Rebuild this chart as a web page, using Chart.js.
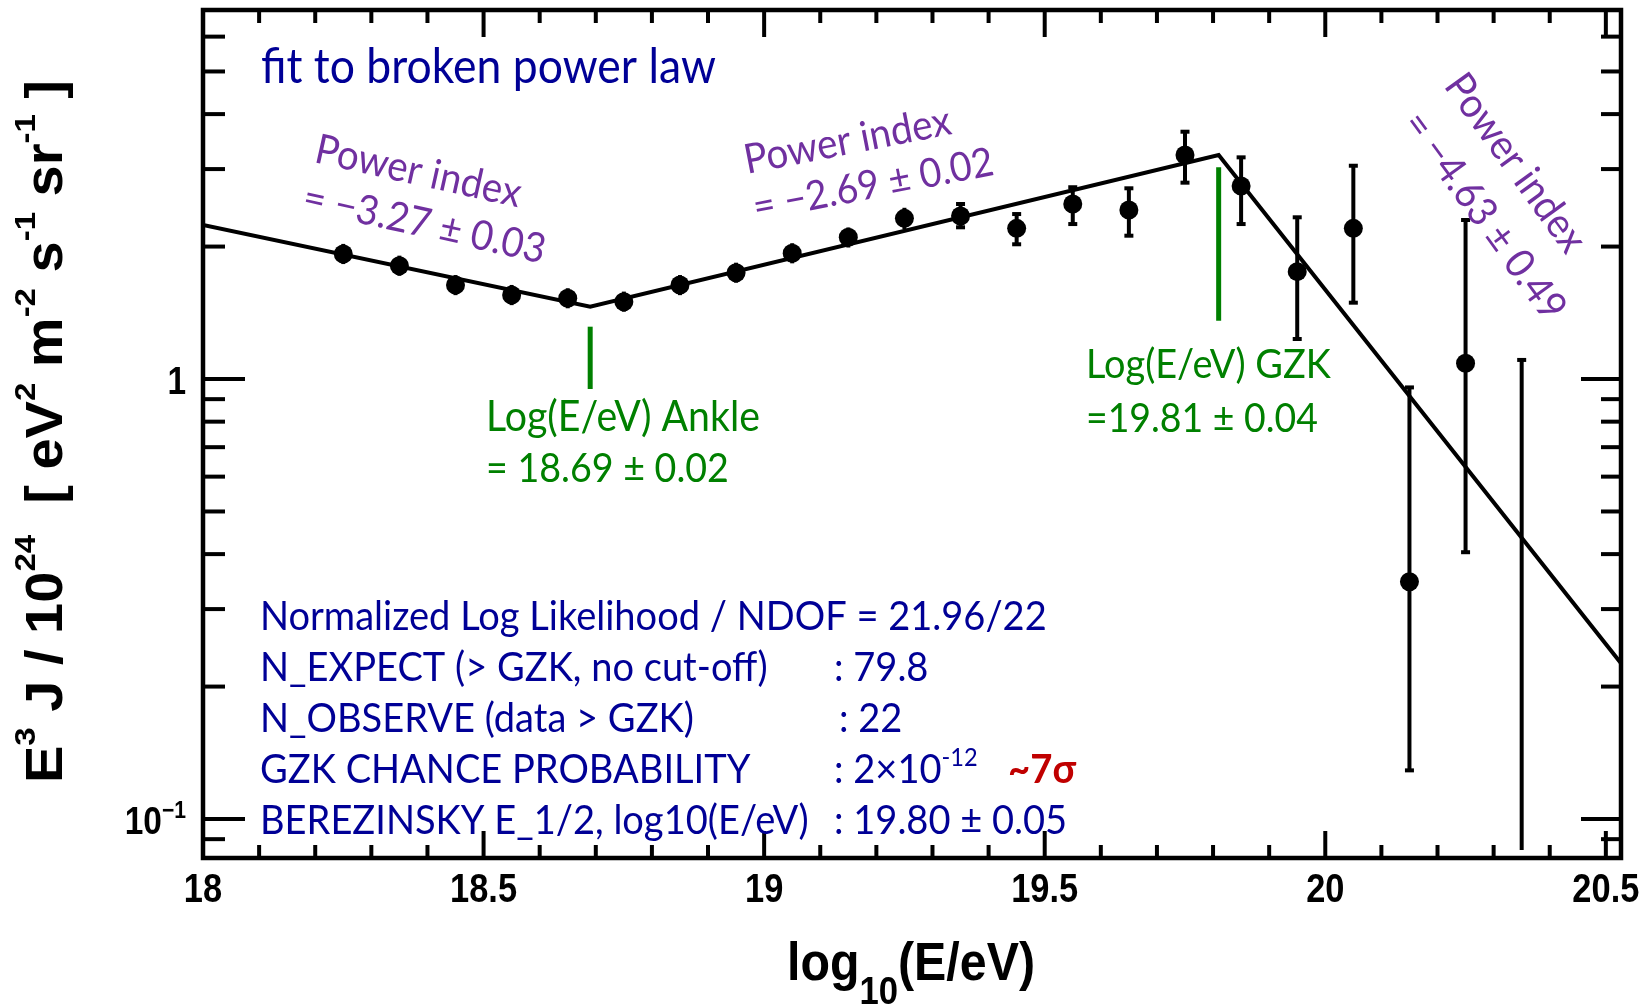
<!DOCTYPE html>
<html>
<head>
<meta charset="utf-8">
<script src="https://cdn.jsdelivr.net/npm/chart.js@4"></script>
<style>
  html, body { margin: 0; padding: 0; background: #fff; }
  canvas { display: block; }
</style>
</head>
<body>
<canvas id="myChart" width="1650" height="1008"></canvas>
<script>
// values (E^3 J / 1e24)
const energy   = [18.25, 18.35, 18.45, 18.55, 18.65, 18.75, 18.85, 18.95, 19.05, 19.15, 19.25,
                  19.35, 19.45, 19.55, 19.65, 19.75, 19.85, 19.95, 20.05, 20.15, 20.25, 20.35];
const flux     = [1.924, 1.809, 1.635, 1.552, 1.526, 1.499, 1.635, 1.744, 1.931, 2.099, 2.318,
                  2.347, 2.200, 2.499, 2.422, 3.229, 2.746, 1.754, 2.200, 0.346, 1.086, null];
const fluxLow  = [1.825, 1.716, 1.551, 1.472, 1.448, 1.422, 1.551, 1.655, 1.832, 1.990, 2.190,
                  2.212, 2.024, 2.250, 2.117, 2.794, 2.250, 1.233, 1.491, 0.129, 0.404, 0.085];
const fluxHigh = [2.028, 1.907, 1.723, 1.636, 1.608, 1.580, 1.723, 1.838, 2.035, 2.210, 2.450,
                  2.499, 2.371, 2.728, 2.713, 3.648, 3.190, 2.331, 3.053, 0.957, 2.298, 1.105];

// broken power law fit, vertices
const fitEnergy = [18.0, 18.69, 19.81, 20.527];
const fitFlux   = [2.24, 1.46, 3.23, 0.226];

// green break markers
const ankleEnergy = 18.69, ankleSpan = [0.949, 1.315];
const gzkEnergy = 19.81, gzkSpan = [1.357, 3.027];

// axes
const xMin = 18, xMax = 20.527;
const yMin = 0.08155, yMax = 6.897;
const xMajorTicks = [18, 18.5, 19, 19.5, 20, 20.5];
const xTickLabels = ['18', '18.5', '19', '19.5', '20', '20.5'];
const xMinorTicks = [18.1, 18.2, 18.3, 18.4, 18.6, 18.7, 18.8, 18.9, 19.1, 19.2, 19.3, 19.4,
                     19.6, 19.7, 19.8, 19.9, 20.1, 20.2, 20.3, 20.4];
const yMajorTicks = [0.1, 1];
const yTickLabels = [['10', '\u22121'], ['1', '']];
const yMinorTicks = [0.09, 0.2, 0.3, 0.4, 0.5, 0.6, 0.7, 0.8, 0.9, 2, 3, 4, 5, 6];

const NAVY = '#000096', GREEN = '#008000', PURPLE = '#7030A0', RED = '#C00000';
const TXT = 'Lato, "Open Sans", sans-serif';
const AX = '"Liberation Sans", Arial, sans-serif';
const TALL = 1.07; // Lato drawn a bit taller and narrower, closer to the original face

function line(ctx, x1, y1, x2, y2) {
    ctx.beginPath(); ctx.moveTo(x1, y1); ctx.lineTo(x2, y2); ctx.stroke();
}

// text in Lato, font size chosen so the string has the given width
function put(ctx, text, x, y, o) {
    const w = o.weight || 'normal';
    let size = o.size;
    if (!size) {
        ctx.font = `${w} 100px ${TXT}`;
        size = 100 * o.width / ctx.measureText(text).width;
    }
    ctx.save();
    ctx.translate(x, y);
    ctx.rotate((o.angle || 0) * Math.PI / 180);
    ctx.scale(1 / TALL, 1);
    ctx.font = `${w} ${size * TALL}px ${TXT}`;
    ctx.fillStyle = o.color;
    ctx.textAlign = 'left';
    ctx.textBaseline = 'alphabetic';
    ctx.fillText(text, 0, 0);
    ctx.restore();
    return size;
}

// mixed text with super/subscripts, squeezed to a width
function rich(ctx, parts, x, y, o) {
    let total = 0;
    parts.forEach(p => { ctx.font = p.font; p.w = ctx.measureText(p.t).width; total += p.w; });
    const sx = o.width ? o.width / total : (o.sx || 1);
    ctx.save();
    ctx.translate(x, y);
    ctx.rotate((o.angle || 0) * Math.PI / 180);
    ctx.scale(sx, 1);
    ctx.fillStyle = o.color || '#000';
    ctx.textAlign = 'left';
    ctx.textBaseline = 'alphabetic';
    let cx = o.align === 'right' ? -total : o.align === 'center' ? -total / 2 : 0;
    parts.forEach(p => { ctx.font = p.font; ctx.fillText(p.t, cx, p.dy || 0); cx += p.w; });
    ctx.restore();
}

const errorBars = {
    id: 'errorBars',
    beforeDatasetsDraw(chart) {
        const ctx = chart.ctx, xs = chart.scales.x, ys = chart.scales.y;
        ctx.save();
        ctx.strokeStyle = '#000';
        ctx.lineWidth = 4;
        energy.forEach((e, i) => {
            const px = xs.getPixelForValue(e);
            const pLo = ys.getPixelForValue(fluxLow[i]);
            const pHi = ys.getPixelForValue(fluxHigh[i]);
            line(ctx, px, pLo, px, pHi);
            const pv = flux[i] === null ? null : ys.getPixelForValue(flux[i]);
            if (pv === null || pv - pHi > 11) line(ctx, px - 4.5, pHi, px + 4.5, pHi);
            if (pv !== null && pLo - pv > 11) line(ctx, px - 4.5, pLo, px + 4.5, pLo);
        });
        ctx.restore();
    }
};

const frame = {
    id: 'frame',
    afterDatasetsDraw(chart) {
        const ctx = chart.ctx, xs = chart.scales.x, ys = chart.scales.y;
        const { left, right, top, bottom } = chart.chartArea;
        ctx.save();
        ctx.strokeStyle = '#000';
        ctx.lineWidth = 4.5;
        ctx.strokeRect(left, top, right - left, bottom - top);
        ctx.lineWidth = 4;
        xMajorTicks.forEach(v => {
            const px = xs.getPixelForValue(v);
            line(ctx, px, bottom, px, bottom - 27);
            line(ctx, px, top, px, top + 27);
        });
        xMinorTicks.forEach(v => {
            const px = xs.getPixelForValue(v);
            line(ctx, px, bottom, px, bottom - 13);
            line(ctx, px, top, px, top + 13);
        });
        yMajorTicks.forEach(v => {
            const py = ys.getPixelForValue(v);
            line(ctx, left, py, left + 42, py);
            line(ctx, right, py, right - 40, py);
        });
        yMinorTicks.forEach(v => {
            const py = ys.getPixelForValue(v);
            line(ctx, left, py, left + 22, py);
            line(ctx, right, py, right - 20, py);
        });

        // tick labels
        xMajorTicks.forEach((v, i) => {
            rich(ctx, [{ t: xTickLabels[i], font: `bold 40px ${AX}` }],
                xs.getPixelForValue(v), bottom + 44, { sx: 0.86, align: 'center' });
        });
        yMajorTicks.forEach((v, i) => {
            const [base, sup] = yTickLabels[i];
            const parts = [{ t: base, font: `bold 38px ${AX}` }];
            if (sup) parts.push({ t: sup, font: `bold 24px ${AX}`, dy: -16 });
            rich(ctx, parts, left - 17, ys.getPixelForValue(v) + 15, { sx: 0.88, align: 'right' });
        });
        ctx.restore();
    }
};

const annotations = {
    id: 'annotations',
    afterDraw(chart) {
        const ctx = chart.ctx;
        ctx.save();

        // axis titles
        const M = `bold 51px ${AX}`, S = `bold 30px ${AX}`, sup = -27;
        rich(ctx, [
            { t: 'E', font: M }, { t: '3', font: S, dy: sup },
            { t: ' J / 10', font: M }, { t: '24', font: S, dy: sup },
            { t: '  [ eV', font: M }, { t: '2', font: S, dy: sup },
            { t: ' m', font: M }, { t: '-2', font: S, dy: sup },
            { t: ' s', font: M }, { t: '-1', font: S, dy: sup },
            { t: ' sr', font: M }, { t: '-1', font: S, dy: sup },
            { t: ' ]', font: M }
        ], 62, 783, { width: 703, angle: -90 });
        rich(ctx, [
            { t: 'log', font: `bold 53px ${AX}` },
            { t: '10', font: `bold 38px ${AX}`, dy: 24 },
            { t: '(E/eV)', font: `bold 53px ${AX}` }
        ], 787, 980, { width: 248 });

        put(ctx, 'fit to broken power law', 261, 83, { width: 455, color: NAVY });

        // spectral indices
        put(ctx, 'Power index', 313, 162, { width: 210, angle: 12.5, color: PURPLE });
        put(ctx, '= \u22123.27 \u00b1 0.03', 301, 210, { width: 247, angle: 12.5, color: PURPLE });
        put(ctx, 'Power index', 747, 174, { width: 210, angle: -11, color: PURPLE });
        put(ctx, '= \u22122.69 \u00b1 0.02', 756, 221, { width: 244, angle: -11, color: PURPLE });
        put(ctx, 'Power index', 1443, 86, { width: 210, angle: 54, color: PURPLE });
        put(ctx, '= \u22124.63 \u00b1 0.49', 1401, 124, { width: 247, angle: 54, color: PURPLE });

        // break positions
        put(ctx, 'Log(E/eV) Ankle', 486, 431, { width: 274, color: GREEN });
        put(ctx, '= 18.69 \u00b1 0.02', 486, 482, { width: 243, color: GREEN });
        put(ctx, 'Log(E/eV) GZK', 1086, 378, { width: 245, color: GREEN });
        put(ctx, '=19.81 \u00b1 0.04', 1086, 432, { width: 232, color: GREEN });

        // fit summary
        const size = put(ctx, 'Normalized Log Likelihood / NDOF = 21.96/22', 260, 630, { width: 787, color: NAVY });
        put(ctx, 'N_EXPECT (> GZK, no cut-off)', 260, 681, { size, color: NAVY });
        put(ctx, ': 79.8', 834, 681, { size, color: NAVY });
        put(ctx, 'N_OBSERVE (data > GZK)', 260, 732, { size, color: NAVY });
        put(ctx, ': 22', 839, 732, { size, color: NAVY });
        put(ctx, 'GZK CHANCE PROBABILITY', 260, 783, { size, color: NAVY });
        rich(ctx, [
            { t: ': 2\u00d710', font: `${size * TALL}px ${TXT}` },
            { t: '-12', font: `${size * 0.62 * TALL}px ${TXT}`, dy: -size * 0.45 }
        ], 834, 783, { color: NAVY, sx: 1 / TALL });
        put(ctx, '~7\u03c3', 1008, 783, { width: 68, weight: 'bold', color: RED });
        put(ctx, 'BEREZINSKY E_1/2, log10(E/eV)', 260, 834, { size, color: NAVY });
        put(ctx, ': 19.80 \u00b1 0.05', 834, 834, { size, color: NAVY });

        ctx.restore();
    }
};

const xy = (xsArr, ysArr) => xsArr.map((x, i) => ({ x, y: ysArr[i] }));

const ctx = document.getElementById('myChart').getContext('2d');
const chart = new Chart(ctx, {
    type: 'scatter',
    data: {
        datasets: [{
            label: 'data',
            data: xy(energy, flux).filter(p => p.y !== null),
            backgroundColor: '#000',
            borderWidth: 0,
            pointRadius: 9.5,
            pointHoverRadius: 9.5
        }, {
            type: 'line',
            label: 'fit',
            data: xy(fitEnergy, fitFlux),
            showLine: true,
            borderColor: '#000',
            borderWidth: 4,
            pointRadius: 0,
            fill: false,
            tension: 0
        }, {
            type: 'line',
            label: 'ankle',
            data: xy([ankleEnergy, ankleEnergy], ankleSpan),
            showLine: true,
            borderColor: GREEN,
            borderWidth: 5,
            pointRadius: 0
        }, {
            type: 'line',
            label: 'gzk',
            data: xy([gzkEnergy, gzkEnergy], gzkSpan),
            showLine: true,
            borderColor: GREEN,
            borderWidth: 5,
            pointRadius: 0
        }]
    },
    options: {
        responsive: false,
        animation: false,
        devicePixelRatio: 1,
        events: [],
        layout: { padding: { left: 203, right: 29, top: 10, bottom: 150 } },
        plugins: { legend: { display: false }, tooltip: { enabled: false } },
        scales: {
            x: { type: 'linear', min: xMin, max: xMax, display: false },
            y: { type: 'logarithmic', min: yMin, max: yMax, display: false }
        }
    },
    plugins: [errorBars, frame, annotations]
});
</script>
</body>
</html>
